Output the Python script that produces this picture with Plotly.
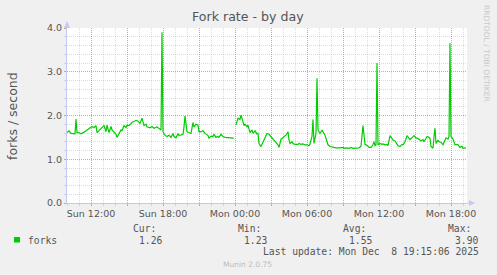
import plotly.graph_objects as go
from datetime import datetime, timedelta

# ---------------- data ----------------
START = datetime(2025, 12, 7, 10, 0)
SPAN_MIN = 2000

minutes = [0, 10, 20, 30, 40, 45, 50, 60, 70, 85, 100, 115, 125, 135, 145, 150, 165, 175, 185, 195,
           200, 210, 220, 225, 235, 245, 250, 260, 270, 275, 285, 295, 300, 310, 325, 345, 355, 365, 375, 385,
           395, 400, 415, 425, 435, 450, 460, 470, 475, 480, 490, 500, 510, 520, 530, 535, 545, 555, 560, 570,
           580, 585, 590, 600, 610, 620, 630, 635, 645, 655, 660, 670, 680, 690, 705, 710, 720, 730, 735, 745,
           755, 760, 770, 780, 790, 805, 820, 835, 840,
           845, 850, 855, 865, 870, 875, 885, 890, 900, 905, 915, 925, 930, 940, 950, 955, 960, 970, 975, 985,
           990, 1000, 1010, 1020, 1030, 1035, 1045, 1055, 1060, 1065, 1070, 1080, 1085, 1095, 1105, 1110, 1115,
           1125, 1130, 1140, 1155, 1160, 1170, 1180, 1190, 1200, 1210, 1215, 1225, 1230, 1235, 1245, 1250, 1255,
           1265, 1275, 1280, 1290, 1300, 1305, 1315, 1330, 1345, 1360, 1380, 1385, 1395, 1410, 1420, 1430, 1445,
           1460, 1470, 1475, 1480, 1490, 1495, 1505, 1510, 1520, 1530, 1535, 1540, 1545, 1550, 1555, 1565, 1575,
           1580, 1590, 1600, 1605, 1615, 1625, 1630, 1640, 1650, 1655, 1665, 1675, 1680, 1690, 1700, 1710, 1715,
           1725, 1735, 1745, 1755, 1760, 1770, 1780, 1785, 1795, 1800, 1810, 1815, 1820, 1830, 1835, 1840, 1845,
           1855, 1860, 1870, 1880, 1885, 1895, 1905, 1910, 1915, 1920, 1930, 1940, 1950, 1955, 1965, 1975, 1980,
           1990, 1995]

forks = [1.61, 1.65, 1.59, 1.58, 1.58, 1.92, 1.61, 1.61, 1.58, 1.62, 1.67, 1.72, 1.75, 1.72, 1.77, 1.61, 1.67, 1.71, 1.77, 1.63,
         1.78, 1.61, 1.75, 1.67, 1.63, 1.57, 1.50, 1.57, 1.67, 1.65, 1.77, 1.72, 1.78, 1.77, 1.84, 1.89, 1.87, 1.82, 1.94, 1.77,
         1.80, 1.74, 1.72, 1.75, 1.71, 1.74, 1.71, 1.67, 3.90, 1.63, 1.55, 1.52, 1.55, 1.50, 1.59, 1.52, 1.49, 1.59, 1.54, 1.55,
         1.57, 1.74, 1.99, 1.63, 1.61, 1.59, 1.84, 1.74, 1.80, 1.78, 1.63, 1.63, 1.65, 1.59, 1.54, 1.48, 1.53, 1.52, 1.57, 1.50,
         1.52, 1.50, 1.57, 1.52, 1.50, 1.50, 1.49, 1.48, None,
         1.78, 1.90, 1.94, 1.91, 2.01, 1.94, 1.77, 1.80, 1.74, 1.78, 1.61, 1.67, 1.59, 1.65, 1.58, 1.59, 1.36, 1.29, 1.34, 1.48,
         1.52, 1.59, 1.57, 1.52, 1.48, 1.44, 1.39, 1.33, 1.27, 1.36, 1.46, 1.49, 1.52, 1.55, 1.63, 1.44, 1.36,
         1.40, 1.36, 1.34, 1.34, 1.36, 1.34, 1.35, 1.33, 1.33, 1.31, 1.35, 1.52, 1.91, 1.36, 1.59, 2.85, 1.67,
         1.59, 1.67, 1.63, 1.55, 1.40, 1.33, 1.29, 1.27, 1.26, 1.26, 1.27, 1.25, 1.26, 1.25, 1.27, 1.25, 1.26,
         1.26, 1.30, 1.55, 1.77, 1.34, 1.33, 1.30, 1.27, 1.27, 1.33, 1.40, 1.31, 1.33, 3.20, 1.33, 1.36, 1.34,
         1.35, 1.33, 1.34, 1.31, 1.54, 1.48, 1.44, 1.42, 1.36, 1.31, 1.29, 1.34, 1.33, 1.40, 1.54, 1.48, 1.45,
         1.49, 1.54, 1.49, 1.48, 1.46, 1.42, 1.45, 1.40, 1.48, 1.52, 1.50, 1.48, 1.29, 1.25, 1.52, 1.71, 1.36,
         1.44, 1.40, 1.39, 1.33, 1.40, 1.49, 1.46, 1.52, 3.65, 1.52, 1.46, 1.33, 1.34, 1.33, 1.27, 1.30, 1.25,
         1.25, 1.26]

x_tick_times = ["2025-12-07 12:00", "2025-12-07 15:00", "2025-12-07 18:00", "2025-12-07 21:00",
                "2025-12-08 00:00", "2025-12-08 03:00", "2025-12-08 06:00", "2025-12-08 09:00",
                "2025-12-08 12:00", "2025-12-08 15:00", "2025-12-08 18:00"]
x_tick_text = ["Sun 12:00", "", "Sun 18:00", "", "Mon 00:00", "", "Mon 06:00", "", "Mon 12:00", "", "Mon 18:00"]
y_tick_vals = [0, 1, 2, 3, 4]
y_tick_text = ["0.0", "1.0", "2.0", "3.0", "4.0"]

title_text = "Fork rate - by day"
y_title = "forks / second"
series_name = "forks"
stat_labels = ["Cur:", "Min:", "Avg:", "Max:"]
stat_values = ["1.26", "1.23", "1.55", "3.90"]
last_update = "Last update: Mon Dec\u00a0 8 19:15:06 2025"
footer = "Munin 2.0.75"
side_text = "RRDTOOL / TOBI OETIKER"

# ---------------- layout geometry ----------------
W, H = 497, 275
L, R, T, B = 67, 467, 28, 203
GREEN = "#00CC00"
TXT = "#555555"
MGRID = "rgba(240,70,70,0.42)"
GRID = "rgba(150,150,150,0.33)"
AXIS = "#C4C8F4"


def px(x):
    return (x - L) / (R - L)


def py(y):
    return (B - y) / (B - T)


times = [START + timedelta(minutes=m) for m in minutes]

fig = go.Figure()
fig.add_trace(go.Scatter(x=times, y=forks, mode="lines", line=dict(color=GREEN, width=1.2),
                         connectgaps=False, showlegend=False, hoverinfo="skip"))

fig.update_layout(
    width=W, height=H,
    margin=dict(l=L, r=W - R, t=T, b=H - B, pad=0),
    paper_bgcolor="#F0F0F0", plot_bgcolor="#FFFFFF",
    showlegend=False,
    font=dict(family="DejaVu Sans", color=TXT, size=9.5),
)

fig.update_xaxes(
    type="date", range=[START, START + timedelta(minutes=SPAN_MIN)],
    tickmode="array", tickvals=x_tick_times, ticktext=x_tick_text,
    showgrid=True, gridcolor=MGRID, griddash="1px,1px", gridwidth=1,
    ticks="outside", ticklen=2, tickcolor=MGRID, tickwidth=1,
    tickfont=dict(family="DejaVu Sans", size=9.5, color=TXT),
    minor=dict(dtick=3600000, tick0="2025-12-07 00:00", showgrid=True, gridcolor=GRID,
               griddash="1px,1px", ticks="outside", ticklen=2, tickcolor=GRID),
    showline=True, linecolor=AXIS, linewidth=1, zeroline=False, fixedrange=True,
)
fig.update_yaxes(
    range=[0, 4], tickmode="array", tickvals=y_tick_vals, ticktext=y_tick_text,
    showgrid=True, gridcolor=MGRID, griddash="1px,1px", gridwidth=1,
    ticks="outside", ticklen=2, tickcolor=MGRID,
    tickfont=dict(family="DejaVu Sans", size=9.5, color=TXT),
    minor=dict(dtick=0.2, showgrid=True, gridcolor=GRID, griddash="1px,1px",
               ticks="outside", ticklen=2, tickcolor=GRID),
    showline=True, linecolor=AXIS, linewidth=1, zeroline=False, fixedrange=True,
)

shapes = []
# axis arrows
shapes.append(dict(type="path", xref="paper", yref="paper",
                   path=f"M {px(64)} {py(28)} L {px(70)} {py(28)} L {px(67)} {py(21)} Z",
                   fillcolor=AXIS, line=dict(width=0)))
shapes.append(dict(type="line", xref="paper", yref="paper", x0=px(467), x1=px(470), y0=0, y1=0,
                   line=dict(color=AXIS, width=1)))
shapes.append(dict(type="path", xref="paper", yref="paper",
                   path=f"M {px(469)} {py(200)} L {px(469)} {py(206)} L {px(475)} {py(203)} Z",
                   fillcolor=AXIS, line=dict(width=0)))
# legend swatch
shapes.append(dict(type="rect", xref="paper", yref="paper",
                   x0=px(14), x1=px(20), y0=py(242.5), y1=py(237),
                   fillcolor=GREEN, line=dict(width=0)))
fig.update_layout(shapes=shapes)

ann = []


def add_text(text, x, y, size, family="DejaVu Sans", color=TXT, xanchor="left", angle=0):
    ann.append(dict(text=text, x=px(x), y=py(y), xref="paper", yref="paper", showarrow=False,
                    xanchor=xanchor, yanchor="middle", textangle=angle, borderpad=0,
                    font=dict(family=family, size=size, color=color)))


add_text(title_text, 248, 17, 12.6, xanchor="center")
add_text(y_title, 12, 116, 12.5, xanchor="center", angle=-90)
add_text(side_text, 486.5, 53.5, 7.5, color="#C8C8C8", xanchor="center", angle=90)

MONO = "DejaVu Sans Mono"
add_text(series_name, 26.5, 240, 9.7, family=MONO)
label_x = [131.5, 236.5, 341.5, 446.5]
value_x = [138, 242.5, 348, 453.5]
for lx, lab in zip(label_x, stat_labels):
    add_text(lab, lx, 228.5, 9.7, family=MONO)
for vx, val in zip(value_x, stat_values):
    add_text(val, vx, 240, 9.7, family=MONO)
add_text(last_update, 261.5, 251.5, 9.7, family=MONO)
add_text(footer, 247.5, 264.5, 7.5, color="#BBBBBB", xanchor="center")

fig.update_layout(annotations=ann)

fig.write_html("out.html", config={"displayModeBar": False})
